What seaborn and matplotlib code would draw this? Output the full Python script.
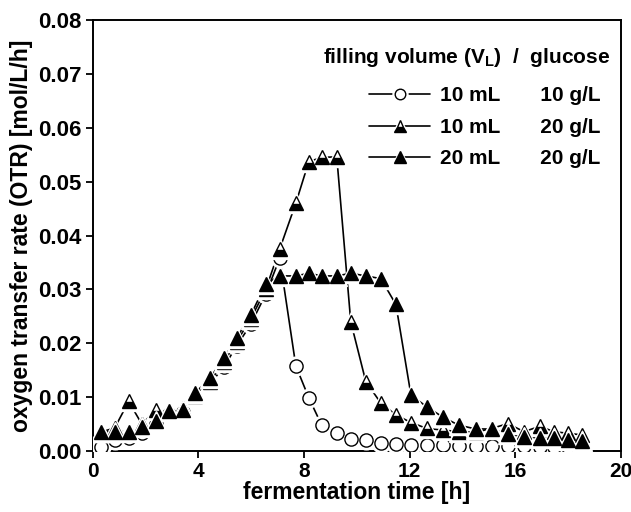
import numpy as np
import pandas as pd
import matplotlib
matplotlib.use("Agg")
import matplotlib.pyplot as plt
from matplotlib.ticker import FormatStrFormatter
from matplotlib.lines import Line2D
import seaborn as sns

# ---- data ----
time_h = [0.30, 0.83, 1.36, 1.86, 2.39, 2.88, 3.41, 3.86, 4.43, 4.96, 5.45, 5.98,
          6.55, 7.08, 7.69, 8.18, 8.67, 9.24, 9.77, 10.34, 10.91, 11.48, 12.05,
          12.65, 13.26, 13.86, 14.51, 15.11, 15.72, 16.33, 16.93, 17.46, 17.99, 18.52]

otr_10mL_10g = [0.0007, 0.0020, 0.0024, 0.0033, 0.0050, 0.0069, 0.0072, 0.0096,
                0.0124, 0.0156, 0.0195, 0.0235, 0.0291, 0.0358, 0.0158, 0.0099,
                0.0048, 0.0033, 0.0022, 0.0020, 0.0015, 0.0013, 0.0011, 0.0011,
                0.0011, 0.0010, 0.0010, 0.0010, 0.0010, 0.0009, 0.0008, 0.0008,
                0.0008, 0.0008]

otr_10mL_20g = [0.0035, 0.0043, 0.0092, 0.0050, 0.0076, 0.0077, 0.0080, 0.0102,
                0.0128, 0.0165, 0.0203, 0.0245, 0.0300, 0.0375, 0.0460, 0.0537,
                0.0545, 0.0546, 0.0240, 0.0129, 0.0089, 0.0067, 0.0053, 0.0042,
                0.0039, 0.0036, 0.0035, 0.0042, 0.0051, 0.0036, 0.0046, 0.0036,
                0.0033, 0.0030]

otr_20mL_20g = [0.0035, 0.0036, 0.0036, 0.0045, 0.0056, 0.0075, 0.0077, 0.0107,
                0.0135, 0.0172, 0.0210, 0.0252, 0.0310, 0.0325, 0.0325, 0.0330,
                0.0325, 0.0325, 0.0330, 0.0325, 0.0320, 0.0272, 0.0104, 0.0082,
                0.0063, 0.0048, 0.0041, 0.0041, 0.0031, 0.0027, 0.0024, 0.0024,
                0.0021, 0.0019]

volumes = ["10 mL", "10 mL", "20 mL"]
glucose = ["10 g/L", "20 g/L", "20 g/L"]
x_ticks = [0, 4, 8, 12, 16, 20]
y_ticks = [0.00, 0.01, 0.02, 0.03, 0.04, 0.05, 0.06, 0.07, 0.08]

# ---- style ----
sns.set_theme(style="ticks")
plt.rcParams["font.family"] = ["Liberation Sans", "DejaVu Sans"]
plt.rcParams["font.weight"] = "bold"
plt.rcParams["text.color"] = "black"
plt.rcParams["axes.labelcolor"] = "black"
plt.rcParams["xtick.color"] = "black"
plt.rcParams["ytick.color"] = "black"
plt.rcParams["mathtext.fontset"] = "custom"
plt.rcParams["mathtext.rm"] = "Liberation Sans:bold"
plt.rcParams["mathtext.it"] = "Liberation Sans:bold"
plt.rcParams["mathtext.bf"] = "Liberation Sans:bold"
plt.rcParams["mathtext.default"] = "rm"

fig = plt.figure(figsize=(6.31, 5.12), dpi=100)
ax = fig.add_axes([0.147, 0.119, 0.837, 0.842])

series = [
    (otr_10mL_10g, dict(marker="o", markersize=9.5, markerfacecolor="white",
                        markeredgecolor="black", markeredgewidth=1.0)),
    (otr_10mL_20g, dict(marker="^", markersize=10.5, fillstyle="bottom",
                        markerfacecolor="black", markerfacecoloralt="white",
                        markeredgecolor="black", markeredgewidth=1.0)),
    (otr_20mL_20g, dict(marker="^", markersize=10.5, markerfacecolor="black",
                        markeredgecolor="black", markeredgewidth=1.0)),
]

# connecting lines
for vals, _ in series:
    df = pd.DataFrame({"t": time_h, "otr": vals})
    sns.lineplot(data=df, x="t", y="otr", ax=ax, color="black", linewidth=1.2,
                 estimator=None, sort=False, zorder=2)

# markers with white halo (gap effect)
handles = []
for i, (vals, mk) in enumerate(series):
    df = pd.DataFrame({"t": time_h, "otr": vals})
    halo = dict(marker=mk["marker"], markersize=mk["markersize"] + 4,
                markerfacecolor="white", markeredgecolor="white", markeredgewidth=1.0)
    sns.lineplot(data=df, x="t", y="otr", ax=ax, linestyle="none", estimator=None,
                 sort=False, zorder=3 + 2 * i, **halo)
    sns.lineplot(data=df, x="t", y="otr", ax=ax, linestyle="none", estimator=None,
                 sort=False, zorder=4 + 2 * i, **mk)
    h_line = Line2D([], [], color="black", linewidth=1.2)
    h_halo = Line2D([], [], linestyle="none", **halo)
    h_mk = Line2D([], [], linestyle="none", **mk)
    handles.append((h_line, h_halo, h_mk))

labels = [f"{v}       {g}" for v, g in zip(volumes, glucose)]

ax.set_xlim(0, 20)
ax.set_ylim(0, 0.08)
ax.set_xticks(x_ticks)
ax.set_yticks(y_ticks)
ax.yaxis.set_major_formatter(FormatStrFormatter("%.2f"))
ax.tick_params(axis="both", direction="out", length=5, width=1.3,
               pad=3, colors="black")
ax.tick_params(axis="y", labelsize=16)
ax.tick_params(axis="x", labelsize=15)
for lab in ax.get_xticklabels() + ax.get_yticklabels():
    lab.set_fontweight("bold")
for sp in ax.spines.values():
    sp.set_visible(True)
    sp.set_linewidth(1.4)
    sp.set_color("black")

ax.set_xlabel("fermentation time [h]", fontsize=16.5, fontweight="bold",
              labelpad=0, color="black")
ax.set_ylabel("oxygen transfer rate (OTR) [mol/L/h]", fontsize=16.5,
              fontweight="bold", labelpad=4, color="black")

ax.text(0.979, 0.912, r"filling volume (V$_\mathregular{L}$)  /  glucose",
        transform=ax.transAxes, ha="right", va="center", fontsize=15,
        fontweight="bold", color="black")

leg = ax.legend(handles, labels, loc="upper right", bbox_to_anchor=(0.962, 0.846),
                frameon=False, handlelength=2.9, handletextpad=0.5,
                labelspacing=0.6, borderpad=0, borderaxespad=0, markerscale=0.8,
                prop={"weight": "bold", "size": 15}, labelcolor="black")

fig.savefig("out.png", dpi=100)
